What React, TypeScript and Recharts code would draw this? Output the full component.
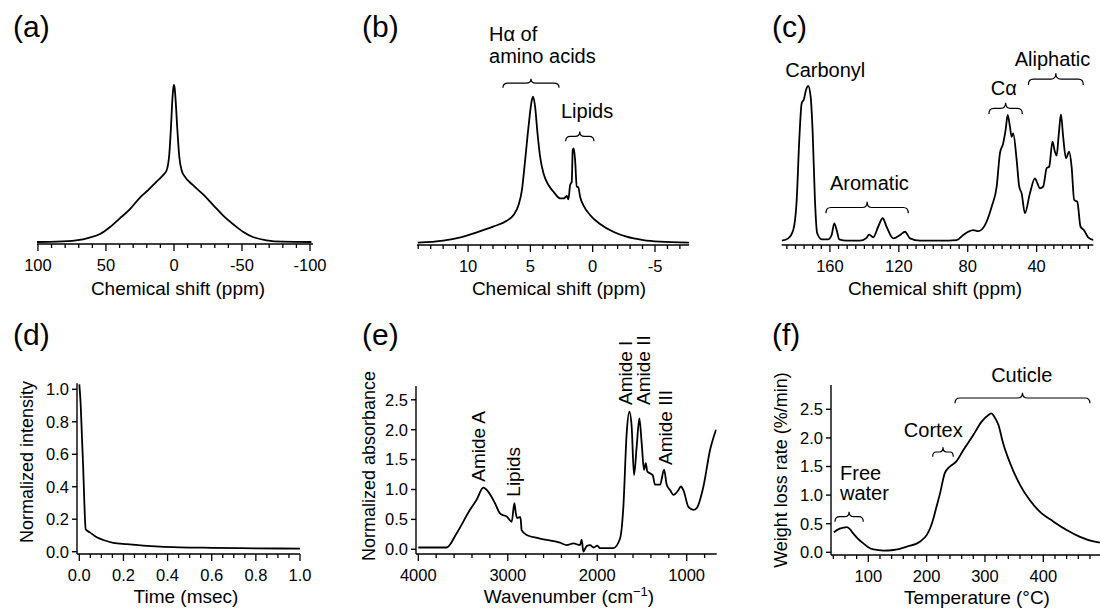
import React from 'react';
import { LineChart, Line, XAxis, YAxis, ReferenceArea, ReferenceDot } from 'recharts';

const FONT = '"Liberation Sans", Arial, Helvetica, sans-serif';
const X_H = 50;
const Y_W = 45;
const TICK_FS = 16.5;

// (a) 1H wide-line NMR
const shiftA = [101, 86, 72, 62, 54, 47, 40, 32, 25, 19, 13, 8, 5.4, 3.4, 2.2, 1.2, 0.5, 0, -0.5, -1.2, -2.5, -3.9, -5.6, -8.1, -14, -22, -29, -36, -44, -51, -58, -68, -80, -101];
const intensityA = [0, 0.002, 0.01, 0.028, 0.053, 0.096, 0.149, 0.213, 0.283, 0.33, 0.383, 0.426, 0.457, 0.564, 0.734, 0.904, 0.98, 1.0, 0.98, 0.904, 0.713, 0.543, 0.457, 0.415, 0.362, 0.298, 0.234, 0.17, 0.11, 0.064, 0.032, 0.011, 0.002, 0];

// (b) 1H MAS NMR
const shiftB = [14.04, 12, 10.6, 9.3, 8, 6.9, 6.35, 5.95, 5.68, 5.42, 5.15, 4.88, 4.78, 4.62, 4.43, 4.22, 3.95, 3.55, 3.15, 2.62, 2.3, 2.08, 1.95, 1.81, 1.68, 1.6, 1.52, 1.41, 1.28, 1.15, 1.01, 0.75, 0.21, -0.59, -1.65, -2.72, -4.06, -5.39, -7.74];
const intensityB = [0, 0.014, 0.037, 0.071, 0.11, 0.15, 0.19, 0.258, 0.36, 0.566, 0.795, 0.977, 1.0, 0.93, 0.75, 0.59, 0.475, 0.395, 0.35, 0.304, 0.304, 0.32, 0.297, 0.395, 0.418, 0.635, 0.646, 0.566, 0.384, 0.379, 0.315, 0.258, 0.19, 0.128, 0.075, 0.041, 0.018, 0.007, 0];

// (c) 13C CP-MAS NMR
const shiftC = [188, 184.2, 181.3, 179.3, 177.8, 176.4, 175.1, 173.9, 172.6, 171.2, 170, 168.7, 167.4, 164.8, 161, 159, 157.5, 156.1, 154.6, 150.3, 142.6, 139.1, 137.2, 134.9, 132, 129.4, 127.1, 123.2, 119.3, 116.4, 113.5, 107.7, 96.1, 86.4, 82.6, 79.7, 76.8, 73.9, 70, 66.1, 63.2, 61.3, 59.4, 58, 56.8, 55.5, 54.5, 53.6, 51.6, 50.1, 48.7, 46.8, 43.9, 41, 39.5, 38.2, 36.2, 34.2, 32.7, 30.8, 29.4, 28.4, 27.1, 25.9, 24.6, 23, 21.1, 19.7, 18.2, 16.4, 14.5, 12.6, 10.1, 6.8];
const intensityC = [0, 0.015, 0.069, 0.263, 0.651, 0.888, 0.914, 0.974, 1.0, 0.931, 0.694, 0.263, 0.048, 0.009, 0.009, 0.037, 0.112, 0.069, 0.009, 0, 0, 0.015, 0.039, 0.022, 0.09, 0.145, 0.09, 0.015, 0.037, 0.058, 0.015, 0, 0, 0.004, 0.037, 0.058, 0.069, 0.062, 0.101, 0.22, 0.349, 0.565, 0.63, 0.716, 0.813, 0.737, 0.672, 0.694, 0.522, 0.349, 0.306, 0.177, 0.306, 0.403, 0.37, 0.339, 0.349, 0.468, 0.479, 0.64, 0.575, 0.55, 0.694, 0.817, 0.672, 0.533, 0.575, 0.479, 0.263, 0.252, 0.09, 0.069, 0.022, 0.004];

// (d) FID decay
const timeD = [0, 0.006, 0.012, 0.018, 0.023, 0.029, 0.048, 0.079, 0.109, 0.154, 0.215, 0.29, 0.366, 0.456, 0.6, 0.8, 1.0];
const intensityD = [1.03, 0.914, 0.708, 0.503, 0.298, 0.138, 0.119, 0.089, 0.072, 0.055, 0.046, 0.037, 0.031, 0.027, 0.024, 0.021, 0.019];

// (e) FT-IR
const wavenumberE = [4000, 3683, 3571, 3422, 3348, 3273, 3217, 3143, 3087, 3050, 3012, 2956, 2926, 2910, 2893, 2863, 2855, 2845, 2789, 2640, 2416, 2341, 2267, 2192, 2174, 2155, 2120, 2080, 2040, 2000, 1969, 1820, 1745, 1708, 1671, 1641, 1615, 1589, 1559, 1529, 1503, 1477, 1458, 1440, 1410, 1380, 1354, 1298, 1253, 1223, 1186, 1149, 1093, 1067, 1037, 981, 925, 888, 813, 739, 672];
const absorbanceE = [0.03, 0.03, 0.27, 0.66, 0.83, 1.03, 0.96, 0.77, 0.6, 0.57, 0.55, 0.46, 0.77, 0.6, 0.52, 0.54, 0.5, 0.32, 0.24, 0.18, 0.11, 0.07, 0.1, 0.07, 0.16, -0.04, 0.05, 0.07, 0.03, 0.06, 0.02, 0.02, 0.18, 0.71, 1.94, 2.3, 2.05, 1.24, 1.72, 2.19, 1.77, 1.33, 1.44, 1.3, 1.27, 1.24, 1.08, 1.08, 1.33, 1.08, 0.99, 0.91, 0.99, 1.05, 0.99, 0.71, 0.66, 0.69, 1.05, 1.66, 2.0];

// (f) DTG
const tempF = [41, 50, 57, 63, 68, 74, 82, 91, 100, 109, 126, 143, 166, 189, 200, 206, 211, 217, 223, 231, 240, 251, 263, 280, 294, 306, 311, 316, 323, 331, 343, 360, 377, 394, 417, 440, 463, 486, 497];
const rateF = [0.35, 0.41, 0.43, 0.44, 0.41, 0.33, 0.24, 0.16, 0.09, 0.05, 0.03, 0.04, 0.1, 0.19, 0.3, 0.42, 0.57, 0.8, 1.03, 1.38, 1.5, 1.59, 1.79, 2.05, 2.28, 2.4, 2.43, 2.37, 2.23, 1.91, 1.56, 1.18, 0.91, 0.71, 0.54, 0.39, 0.27, 0.19, 0.17];

// tick labels
const majorA = [100, 50, 0, -50, -100];
const majorB = [10, 5, 0, -5];
const majorC = [160, 120, 80, 40];
const majorD = [0, 0.2, 0.4, 0.6, 0.8, 1.0];
const majorE = [4000, 3000, 2000, 1000];
const majorF = [100, 200, 300, 400];
const yTicksD = [0, 0.2, 0.4, 0.6, 0.8, 1.0];
const yTicksEF = [0, 0.5, 1.0, 1.5, 2.0, 2.5];

const range = (from: number, to: number, step: number) => {
  const out: number[] = [];
  const n = Math.round((to - from) / step);
  for (let i = 0; i <= n; i++) out.push(+(from + i * step).toFixed(6));
  return out;
};

type Note = { x: number; y: number; text: string; anchor?: 'start' | 'middle' | 'end'; vertical?: boolean };
type Brace = { x1: number; x2: number; y1: number; y2: number };
type PanelCfg = {
  box: [number, number, number, number];
  plot: [number, number, number, number];
  xs: number[];
  ys: number[];
  xDomain: [number, number];
  reversed: boolean;
  yDomain: [number, number];
  majors: number[];
  minors: number[];
  fmtX: (v: number) => string;
  yTicks?: number[];
  title: React.ReactNode;
  titleAt: [number, number];
  yTitle?: string;
  yTitleAt?: [number, number];
  notes: Note[];
  braces: Brace[];
};

function bracePath(x: number, y: number, w: number, h: number) {
  const r = Math.min(5, w / 6);
  const m = x + w / 2;
  const ym = y + h / 2;
  return `M${x},${y + h} Q${x},${ym} ${x + r},${ym} L${m - r},${ym} Q${m},${ym} ${m},${y} Q${m},${ym} ${m + r},${ym} L${x + w - r},${ym} Q${x + w},${ym} ${x + w},${y + h}`;
}

const makeXTick = (majors: number[], fmt: (v: number) => string) => (p: any) => {
  const v = p.payload.value;
  const major = majors.some((m) => Math.abs(m - v) < 1e-6);
  return (
    <g>
      <line x1={p.x} x2={p.x} y1={p.y} y2={p.y + (major ? 7 : 4)} stroke="#000" strokeWidth={1.3} />
      {major && (
        <text x={p.x} y={p.y + 15.5} dy="0.71em" textAnchor="middle" fontSize={TICK_FS} fill="#000">
          {fmt(v)}
        </text>
      )}
    </g>
  );
};

function Panel({ cfg }: { cfg: PanelCfg }) {
  const [left, top, width, height] = cfg.box;
  const [x0, x1, y0, y1] = cfg.plot;
  const yW = cfg.yTicks ? Y_W : 0;
  const margin = { left: x0 - left - yW, right: left + width - x1, top: y0 - top, bottom: top + height - y1 - X_H };
  const data = cfg.xs.map((x, i) => ({ x, y: cfg.ys[i] }));
  const ticks = Array.from(new Set([...cfg.minors, ...cfg.majors])).sort((a, b) => a - b);
  const [tx, ty] = cfg.titleAt;
  const [yx, yy] = cfg.yTitleAt ?? [0, 0];

  const xTitle = () => (
    <text x={tx} y={ty} textAnchor="middle" fontSize={19} fill="#000">
      {cfg.title}
    </text>
  );
  const yTitle = () => (
    <text
      x={yx}
      y={yy}
      textAnchor="middle"
      dominantBaseline="central"
      fontSize={18}
      fill="#000"
      transform={`rotate(-90 ${yx} ${yy})`}
    >
      {cfg.yTitle}
    </text>
  );

  return (
    <div style={{ position: 'absolute', left, top }}>
      <LineChart width={width} height={height} data={data} margin={margin}>
        <XAxis
          type="number"
          dataKey="x"
          domain={cfg.xDomain}
          reversed={cfg.reversed}
          allowDataOverflow
          ticks={ticks}
          interval={0}
          height={X_H}
          tickSize={0}
          tickMargin={0}
          tickLine={false}
          axisLine={{ stroke: '#000', strokeWidth: 1.4 }}
          tick={makeXTick(cfg.majors, cfg.fmtX)}
          label={{ content: xTitle }}
        />
        {cfg.yTicks ? (
          <YAxis
            type="number"
            domain={cfg.yDomain}
            allowDataOverflow
            ticks={cfg.yTicks}
            interval={0}
            width={Y_W}
            tickSize={5}
            tickMargin={3}
            tickFormatter={(v: number) => v.toFixed(1)}
            tick={{ fill: '#000', fontSize: TICK_FS }}
            axisLine={{ stroke: '#000', strokeWidth: 1.4 }}
            tickLine={{ stroke: '#000', strokeWidth: 1.4 }}
            label={{ content: yTitle }}
          />
        ) : (
          <YAxis hide type="number" domain={cfg.yDomain} allowDataOverflow />
        )}
        <Line type="monotone" dataKey="y" stroke="#000" strokeWidth={1.8} dot={false} isAnimationActive={false} />
        {cfg.braces.map((b, i) => (
          <ReferenceArea
            key={`b${i}`}
            x1={b.x1}
            x2={b.x2}
            y1={b.y1}
            y2={b.y2}
            ifOverflow="visible"
            shape={(p: any) => (
              <path d={bracePath(p.x, p.y, p.width, p.height)} fill="none" stroke="#000" strokeWidth={1.2} />
            )}
          />
        ))}
        {cfg.notes.map((n, i) => (
          <ReferenceDot
            key={`n${i}`}
            x={n.x}
            y={n.y}
            r={0}
            ifOverflow="visible"
            shape={(p: any) => (
              <text
                x={p.cx}
                y={p.cy}
                textAnchor={n.anchor ?? 'middle'}
                fontSize={n.vertical ? 19 : 20}
                fill="#000"
                transform={n.vertical ? `rotate(-90 ${p.cx} ${p.cy})` : undefined}
              >
                {n.text}
              </text>
            )}
          />
        ))}
      </LineChart>
    </div>
  );
}

const fmtInt = (v: number) => String(v);
const fmt1 = (v: number) => v.toFixed(1);

const panels: PanelCfg[] = [
  {
    box: [0, 0, 360, 300],
    plot: [37, 313, 80, 244],
    xs: shiftA,
    ys: intensityA,
    xDomain: [-102.2, 100.7],
    reversed: true,
    yDomain: [-0.0127, 1.0318],
    majors: majorA,
    minors: range(-100, 100, 10),
    fmtX: fmtInt,
    title: 'Chemical shift (ppm)',
    titleAt: [178, 295],
    notes: [],
    braces: [],
  },
  {
    box: [360, 0, 380, 300],
    plot: [417, 689, 80, 245],
    xs: shiftB,
    ys: intensityB,
    xDomain: [-7.73, 14.1],
    reversed: true,
    yDomain: [-0.0158, 1.1144],
    majors: majorB,
    minors: range(-7, 14, 1),
    fmtX: fmtInt,
    title: 'Chemical shift (ppm)',
    titleAt: [199, 295],
    notes: [
      { x: 8.32, y: 1.379, text: 'Hα of', anchor: 'start' },
      { x: 8.32, y: 1.231, text: 'amino acids', anchor: 'start' },
      { x: 0.45, y: 0.854, text: 'Lipids' },
    ],
    braces: [
      { x1: 7.2, x2: 2.7, y1: 1.123, y2: 1.062 },
      { x1: 2.17, x2: -0.1, y1: 0.762, y2: 0.694 },
    ],
  },
  {
    box: [740, 0, 360, 300],
    plot: [781.7, 1093.3, 70, 245],
    xs: shiftC,
    ys: intensityC,
    xDomain: [7.1, 188],
    reversed: true,
    yDomain: [-0.0278, 1.1034],
    majors: majorC,
    minors: range(10, 185, 5),
    fmtX: fmtInt,
    title: 'Chemical shift (ppm)',
    titleAt: [195, 295],
    notes: [
      { x: 162.7, y: 1.056, text: 'Carbonyl' },
      { x: 137.1, y: 0.328, text: 'Aromatic' },
      { x: 59.1, y: 0.942, text: 'Cα' },
      { x: 30.8, y: 1.129, text: 'Aliphatic' },
    ],
    braces: [
      { x1: 162.3, x2: 114.5, y1: 0.252, y2: 0.177 },
      { x1: 67.7, x2: 48.3, y1: 0.892, y2: 0.819 },
      { x1: 44.8, x2: 12.9, y1: 1.082, y2: 1.006 },
    ],
  },
  {
    box: [0, 300, 360, 310],
    plot: [77, 300, 383.3, 554],
    xs: timeD,
    ys: intensityD,
    xDomain: [-0.0104, 1.0],
    reversed: false,
    yDomain: [-0.0142, 1.037],
    majors: majorD,
    minors: range(0, 1, 0.05),
    fmtX: fmt1,
    yTicks: yTicksD,
    title: 'Time (msec)',
    titleAt: [186, 303],
    yTitle: 'Normalized intensity',
    yTitleAt: [27, 162],
    notes: [],
    braces: [],
  },
  {
    box: [360, 300, 380, 310],
    plot: [416, 716.7, 386, 554],
    xs: wavenumberE,
    ys: absorbanceE,
    xDomain: [664.7, 4025.7],
    reversed: true,
    yDomain: [-0.0786, 2.7308],
    majors: majorE,
    minors: range(800, 4000, 200),
    fmtX: fmtInt,
    yTicks: yTicksEF,
    title: (
      <>
        Wavenumber (cm
        <tspan dy={-7} fontSize={13}>
          −1
        </tspan>
        <tspan dy={7}>)</tspan>
      </>
    ),
    titleAt: [209, 303],
    yTitle: 'Normalized absorbance',
    yTitleAt: [9, 166],
    notes: [
      { x: 3254, y: 1.13, text: 'Amide A', anchor: 'start', vertical: true },
      { x: 2863, y: 0.88, text: 'Lipids', anchor: 'start', vertical: true },
      { x: 1615, y: 2.413, text: 'Amide I', anchor: 'start', vertical: true },
      { x: 1410, y: 2.413, text: 'Amide II', anchor: 'start', vertical: true },
      { x: 1168, y: 1.41, text: 'Amide III', anchor: 'start', vertical: true },
    ],
    braces: [],
  },
  {
    box: [740, 300, 360, 310],
    plot: [831, 1100, 385, 555],
    xs: tempF,
    ys: rateF,
    xDomain: [36.05, 497.2],
    reversed: false,
    yDomain: [-0.0472, 2.9248],
    majors: majorF,
    minors: range(40, 480, 20),
    fmtX: fmtInt,
    yTicks: yTicksEF,
    title: 'Temperature (°C)',
    titleAt: [237, 304],
    yTitle: 'Weight loss rate (%/min)',
    yTitleAt: [41, 170],
    notes: [
      { x: 363, y: 2.983, text: 'Cuticle' },
      { x: 211.4, y: 2.021, text: 'Cortex' },
      { x: 51.5, y: 1.264, text: 'Free', anchor: 'start' },
      { x: 51.5, y: 0.914, text: 'water', anchor: 'start' },
    ],
    braces: [
      { x1: 248.6, x2: 480, y1: 2.79, y2: 2.605 },
      { x1: 210.4, x2: 245.7, y1: 1.836, y2: 1.671 },
      { x1: 42.9, x2: 91.4, y1: 0.71, y2: 0.535 },
    ],
  },
];

const panelLabels = [
  { text: '(a)', x: 13, y: 37 },
  { text: '(b)', x: 362, y: 37 },
  { text: '(c)', x: 772, y: 37 },
  { text: '(d)', x: 13, y: 345 },
  { text: '(e)', x: 362, y: 345 },
  { text: '(f)', x: 772, y: 345 },
];

export default function App() {
  return (
    <div style={{ position: 'absolute', left: 0, top: 0, width: 1100, height: 610, background: '#fff', fontFamily: FONT, overflow: 'hidden' }}>
      {panels.map((cfg, i) => (
        <Panel key={i} cfg={cfg} />
      ))}
      <svg width={1100} height={610} style={{ position: 'absolute', left: 0, top: 0, pointerEvents: 'none' }}>
        {panelLabels.map((l) => (
          <text key={l.text} x={l.x} y={l.y} fontSize={30} fill="#000" fontFamily={FONT}>
            {l.text}
          </text>
        ))}
      </svg>
    </div>
  );
}
